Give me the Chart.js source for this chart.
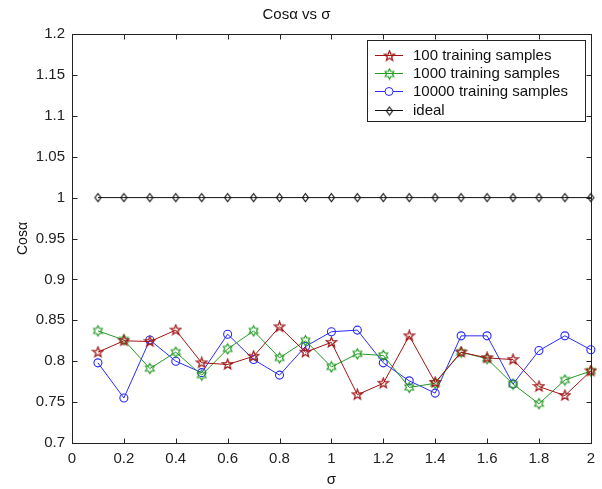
<!DOCTYPE html>
<html><head><meta charset="utf-8">
<script src="https://cdn.jsdelivr.net/npm/chart.js@4/dist/chart.umd.min.js"></script>
<style>html,body{margin:0;padding:0;background:#fff}</style>
</head><body>
<canvas id="c" width="602" height="489"></canvas>
<script>
const sigma = [0.1,0.2,0.3,0.4,0.5,0.6,0.7,0.8,0.9,1.0,1.1,1.2,1.3,1.4,1.5,1.6,1.7,1.8,1.9,2.0];
const samples100 = [0.811,0.825,0.824,0.838,0.798,0.796,0.806,0.842,0.811,0.823,0.759,0.773,0.831,0.774,0.811,0.804,0.802,0.769,0.758,0.788];
const samples1000 = [0.837,0.826,0.791,0.811,0.783,0.815,0.837,0.804,0.825,0.793,0.809,0.807,0.768,0.773,0.811,0.803,0.772,0.748,0.777,0.788];
const samples10000 = [0.798,0.755,0.826,0.800,0.786,0.833,0.802,0.783,0.818,0.836,0.838,0.798,0.776,0.761,0.831,0.831,0.772,0.813,0.831,0.814];
const ideal = [1,1,1,1,1,1,1,1,1,1,1,1,1,1,1,1,1,1,1,1];
const seriesLabels = ['100 training samples','1000 training samples','10000 training samples','ideal'];
const chartTitle = 'Cos\u03b1 vs \u03c3';
const xTitle = '\u03c3';
const yTitle = 'Cos\u03b1';

const RED = '#a01414', GREEN = '#259a25', BLUE = '#2a2aff', BLACK = '#111111';
const TICKFONT = "'Liberation Sans Narrow','Liberation Sans',Arial,sans-serif";
const TEXTFONT = "'Liberation Sans',Arial,sans-serif";

function starCanvas(n, color, ro, ri, size) {
  const c = document.createElement('canvas'); c.width = size; c.height = size;
  const ctx = c.getContext('2d'); ctx.strokeStyle = color; ctx.lineWidth = 1.2;
  const cx = size / 2, cy = size / 2;
  ctx.beginPath();
  for (let i = 0; i < n * 2; i++) {
    const r = i % 2 ? ri : ro;
    const a = -Math.PI / 2 + i * Math.PI / n;
    const x = cx + r * Math.cos(a), y = cy + r * Math.sin(a);
    if (i) ctx.lineTo(x, y); else ctx.moveTo(x, y);
  }
  ctx.closePath(); ctx.stroke();
  return c;
}
function diamondCanvas(color) {
  const c = document.createElement('canvas'); c.width = 9; c.height = 11;
  const ctx = c.getContext('2d'); ctx.strokeStyle = color; ctx.lineWidth = 1.1;
  ctx.beginPath(); ctx.moveTo(4.5, 1.5); ctx.lineTo(7.5, 5.5); ctx.lineTo(4.5, 9.5); ctx.lineTo(1.5, 5.5); ctx.closePath(); ctx.stroke();
  return c;
}
const penta = starCanvas(5, RED, 5.3, 2.2, 13);
const hexa = starCanvas(6, GREEN, 5.0, 2.9, 13);
const diam = diamondCanvas(BLACK);

const toXY = ys => sigma.map((x, i) => ({x: x, y: ys[i]}));
function ds(label, ys, color, style, radius) {
  return {label: label, data: toXY(ys), borderColor: color, backgroundColor: 'rgba(0,0,0,0)',
    borderWidth: 1, pointStyle: style, pointRadius: radius, pointBorderColor: color,
    pointBorderWidth: 1.1, pointBackgroundColor: 'rgba(0,0,0,0)', tension: 0, clip: false};
}

const boxPlugin = {
  id: 'matlabBox',
  afterDraw(chart) {
    const {ctx, chartArea: a, scales} = chart;
    const L = Math.round(a.left) + 0.5, R = Math.round(a.right) + 0.5, T = Math.round(a.top) + 0.5, B = Math.round(a.bottom) + 0.5;
    ctx.save();
    ctx.strokeStyle = '#222'; ctx.lineWidth = 1;
    ctx.strokeRect(L, T, R - L, B - T);
    ctx.beginPath();
    scales.x.ticks.forEach(t => {
      const px = Math.round(scales.x.getPixelForValue(t.value)) + 0.5;
      ctx.moveTo(px, B); ctx.lineTo(px, B - 5);
      ctx.moveTo(px, T); ctx.lineTo(px, T + 5);
    });
    scales.y.ticks.forEach(t => {
      const py = Math.round(scales.y.getPixelForValue(t.value)) + 0.5;
      ctx.moveTo(L, py); ctx.lineTo(L + 5, py);
      ctx.moveTo(R, py); ctx.lineTo(R - 5, py);
    });
    ctx.stroke();
    // legend
    const lx = 367.5, ly = 40.5, lw = 218, lh = 81;
    ctx.fillStyle = '#fff'; ctx.fillRect(lx, ly, lw, lh);
    ctx.strokeStyle = '#222'; ctx.strokeRect(lx, ly, lw, lh);
    const rows = [55, 73, 91, 110];
    ctx.font = '15px ' + TEXTFONT; ctx.textBaseline = 'middle'; ctx.textAlign = 'left';
    chart.data.datasets.forEach((d, i) => {
      const y = rows[i] + 0.5;
      ctx.strokeStyle = d.borderColor; ctx.beginPath(); ctx.moveTo(375, y); ctx.lineTo(403, y); ctx.stroke();
      const st = d.pointStyle;
      if (typeof st === 'object') {
        ctx.drawImage(st, Math.round(389 - st.width / 2), Math.round(rows[i] - st.height / 2) + 0.5);
      } else {
        ctx.fillStyle = '#fff'; ctx.beginPath(); ctx.arc(389, y, 4, 0, Math.PI * 2); ctx.fill(); ctx.stroke();
      }
      ctx.fillStyle = '#111'; ctx.fillText(d.label, 413, rows[i] + 1);
    });
    ctx.restore();
  }
};

const fmt = v => String(Number(v.toFixed(2)));

new Chart(document.getElementById('c'), {
  type: 'line',
  data: {datasets: [
    ds(seriesLabels[0], samples100, RED, penta, 5),
    ds(seriesLabels[1], samples1000, GREEN, hexa, 5),
    ds(seriesLabels[2], samples10000, BLUE, 'circle', 4),
    ds(seriesLabels[3], ideal, BLACK, diam, 4)
  ]},
  options: {
    responsive: false, animation: false, devicePixelRatio: 1,
    layout: {padding: {left: 0, right: 9, top: 0, bottom: 0}},
    plugins: {
      legend: {display: false}, tooltip: {enabled: false},
      title: {display: true, text: chartTitle, color: '#111',
        font: {family: TEXTFONT, size: 15, weight: 'normal', lineHeight: 1.2},
        padding: {top: 6, bottom: 10}}
    },
    scales: {
      x: {type: 'linear', min: 0, max: 2,
        ticks: {stepSize: 0.2, color: '#222', padding: 7, maxRotation: 0, autoSkip: false,
          font: {family: TICKFONT, size: 15}, callback: fmt},
        grid: {display: false, drawTicks: false}, border: {display: false},
        title: {display: true, text: xTitle, color: '#111', font: {family: TEXTFONT, size: 15}, padding: {top: 0, bottom: 0}},
        afterFit: s => { s.height = 46; }
      },
      y: {type: 'linear', min: 0.7, max: 1.2,
        ticks: {stepSize: 0.05, color: '#222', padding: 7, font: {family: TICKFONT, size: 15}, callback: fmt},
        grid: {display: false, drawTicks: false}, border: {display: false},
        title: {display: true, text: yTitle, color: '#111', font: {family: TEXTFONT, size: 14}, padding: {top: 15, bottom: 0}},
        afterFit: s => { s.width = 72; }
      }
    }
  },
  plugins: [boxPlugin]
});
</script>
</body></html>
